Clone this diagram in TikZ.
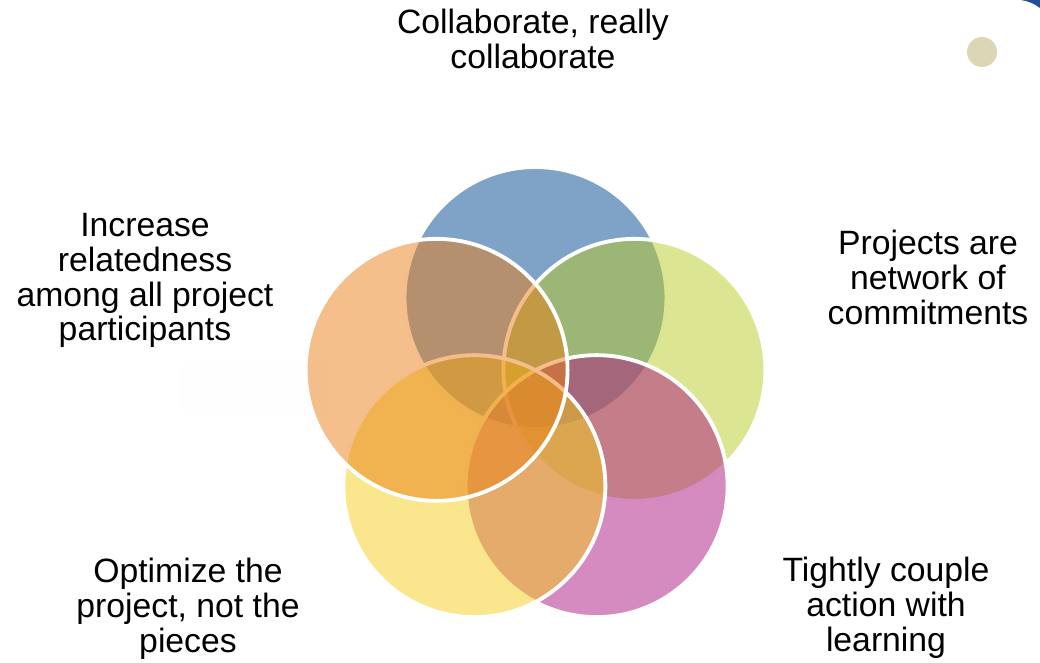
\documentclass[tikz,border=0pt]{standalone}
\usepackage{fontspec}
\setmainfont{Liberation Sans}
\usetikzlibrary{calc}
\definecolor{vennblue}{RGB}{0,69,143}
\definecolor{venngreen}{RGB}{185,205,37}
\definecolor{vennpink}{RGB}{173,23,129}
\definecolor{vennyellow}{RGB}{245,205,25}
\definecolor{vennorange}{RGB}{233,127,23}
\definecolor{dotbeige}{RGB}{221,214,181}
\definecolor{cornerblue}{RGB}{31,78,150}
\tikzset{
  venn/.style     = {draw=white, line width=2.2pt, fill opacity=0.5},
  venntext/.style = {align=center, anchor=north, inner sep=0pt,
                     font=\fontsize{19.2}{19.8}\selectfont},
}

\begin{document}
\begin{tikzpicture}[x=0.02cm, y=0.02cm]
  \useasboundingbox (0,0) rectangle (1040,662);

  % ---- faint box behind the left label -----------------------------------
  \fill[black!0.4] (180,249) rectangle (330,299);

  % ---- five overlapping circles, clockwise from the top ------------------
  \coordinate (hub) at (535.5,260);
  \foreach \ang/\col in {90/vennblue,18/venngreen,-54/vennpink,-126/vennyellow,162/vennorange}
    \draw[venn,fill=\col] ($(hub)+(\ang:104)$) circle[radius=2.62cm];

  % ---- labels round the ring ---------------------------------------------
  \node[venntext] (collab)   at (533,653) {Collaborate, really\\collaborate};
  \node[venntext] (related)  at (145,449) {Increase\\relatedness\\among all project\\participants};
  \node[venntext] (network)  at (928,432) {Projects are\\network of\\commitments};
  \node[venntext] (optimize) at (188,104) {Optimize the\\project, not the\\pieces};
  \node[venntext] (couple)   at (886,105) {Tightly couple\\action with\\learning};

  % ---- corner decoration -------------------------------------------------
  \fill[dotbeige] (982,610) circle[radius=0.3cm];
  \fill[cornerblue] (1021,662) .. controls (1028,661) and (1035,658) .. (1040,654)
                    -- (1040,662) -- cycle;
\end{tikzpicture}
\end{document}
